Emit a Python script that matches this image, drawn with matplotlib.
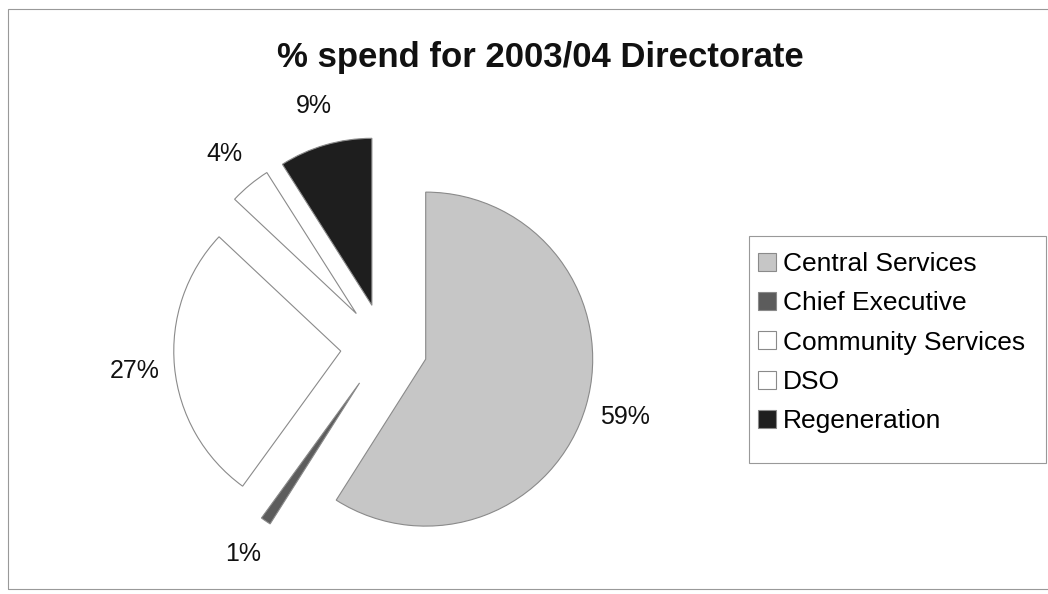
import matplotlib
matplotlib.use("Agg")
import matplotlib.pyplot as plt

plt.rcParams['font.family'] = ['Liberation Sans', 'DejaVu Sans']

categories = ["Central Services", "Chief Executive", "Community Services", "DSO", "Regeneration"]
values = [59, 1, 27, 4, 9]
colors = ["#c6c6c6", "#5c5c5c", "#ffffff", "#ffffff", "#1e1e1e"]
explode = [0.26, 0.26, 0.26, 0.26, 0.26]
title = "% spend for 2003/04 Directorate"

W, H, DPI = 1048, 594, 100
fig = plt.figure(figsize=(W / DPI, H / DPI), dpi=DPI)
fig.patch.set_facecolor("white")

# outer frame
frame = plt.Rectangle((8 / W, 1 - 589 / H), (W + 10 - 8) / W, (589 - 9) / H,
                      transform=fig.transFigure, fill=False, edgecolor="#999999",
                      linewidth=0.8)
fig.patches.append(frame)

ax = fig.add_axes([0, 0, 1, 1])
R = 167.0
cx, cy = 384.0, 347.0
wedges, texts, autotexts = ax.pie(values, colors=colors, explode=explode,
                                  startangle=90, counterclock=False,
                                  autopct="%1.0f%%", pctdistance=1.24,
                                  wedgeprops=dict(edgecolor="#8a8a8a", linewidth=0.8),
                                  textprops=dict(fontsize=18, color="#111111"))
ax.set_aspect("auto")
ax.set_xlim(-cx / R, (W - cx) / R)
ax.set_ylim(-(H - cy) / R, cy / R)
ax.axis("off")

# legend box
legbox = plt.Rectangle((749 / W, 1 - 463 / H), (1046 - 749) / W, (463 - 236) / H,
                       transform=fig.transFigure, fill=False, edgecolor="#999999",
                       linewidth=0.8)
fig.patches.append(legbox)

handles = [plt.Rectangle((0, 0), 1, 1, facecolor=c, edgecolor="#8a8a8a", linewidth=0.8)
           for c in colors]
leg = fig.legend(handles, categories, loc="upper left",
                 bbox_to_anchor=(758 / W, 1 - 252 / H),
                 borderaxespad=0, borderpad=0, fontsize=19, frameon=False,
                 handlelength=0.68, handleheight=0.68, handletextpad=0.25,
                 labelspacing=0.58)

fig.text(540 / W, 1 - 57 / H, title, ha="center", va="center",
         fontsize=25, fontweight="bold", color="#111111")

fig.savefig("out.png", dpi=DPI)
